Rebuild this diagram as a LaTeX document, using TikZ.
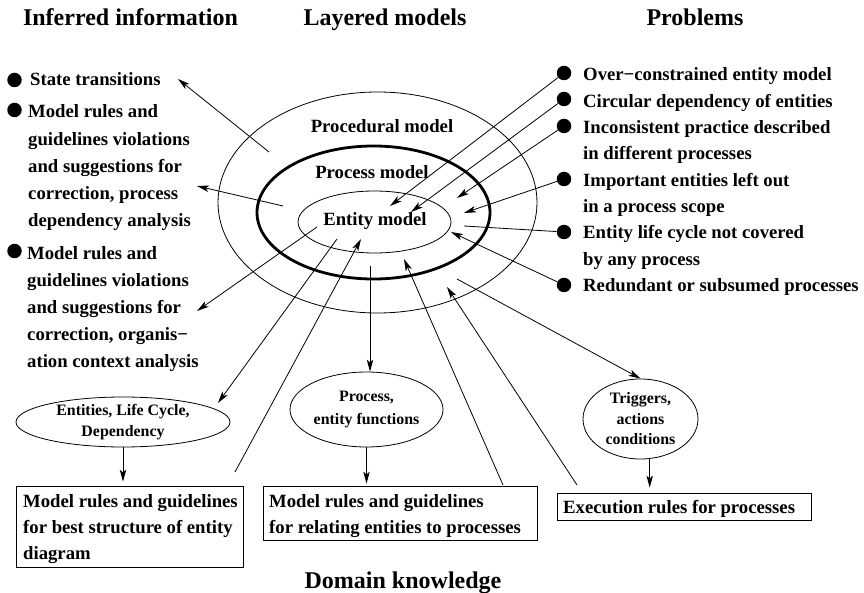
\documentclass[tikz,border=0pt]{standalone}
\usepackage{fontspec}
\setmainfont{Liberation Serif}
\usetikzlibrary{arrows.meta,shapes.geometric,calc}

\begin{document}
\begin{tikzpicture}[x=1pt,y=-1pt,
  lw/.style={line width=0.8pt},
  arr/.style={lw,-{Stealth[length=12pt,width=6.5pt,inset=3pt]}},
  head/.style={font=\fontsize{24}{28}\selectfont\bfseries, inner sep=0pt, anchor=base},
  lefttxt/.style={font=\fontsize{18.7}{27.2}\selectfont\bfseries, inner sep=0pt, anchor=base west, align=left},
  righttxt/.style={font=\fontsize{18.7}{26.3}\selectfont\bfseries, inner sep=0pt, anchor=base west, align=left},
  boxtxt/.style={font=\fontsize{18.7}{26.2}\selectfont\bfseries, inner sep=0pt, anchor=base west, align=left},
  layer/.style={font=\fontsize{18.7}{22}\selectfont\bfseries, inner sep=0pt, anchor=base},
  dot/.style={circle, fill, inner sep=0pt, minimum size=14.5pt},
  ring/.style={ellipse, draw, lw, inner sep=0pt},
  small/.style={ellipse, draw, lw, inner sep=0pt, align=center, font=\fontsize{15.9}{20.5}\selectfont\bfseries},
  rulebox/.style={rectangle, draw, lw, inner sep=0pt}
]
\useasboundingbox (0,0) rectangle (864,593);

% column headings
\node[head] (hinf) at (130.5,26) {Inferred information};
\node[head] (hlay) at (385,26) {Layered models};
\node[head] (hprob) at (695,26) {Problems};
\node[head] (hdom) at (403,588) {Domain knowledge};

% layered models
\node[ring, minimum width=319pt, minimum height=221pt] (proc) at (377.5,202.5) {};
\node[ring, line width=2.8pt, minimum width=233pt, minimum height=133pt] (procm) at (373.5,212.5) {};
\node[ring, minimum width=153pt, minimum height=62pt] (ent) at (374.5,222) {};
\node[layer] (lproc) at (382,133) {Procedural model};
\node[layer] (lprocm) at (372,179) {Process model};
\node[layer] (lent) at (375,226) {Entity model};

% inferred information (multi-line texts are placed by their last baseline)
\node[dot] (ib1) at (14.5,80) {};
\node[dot] (ib2) at (14.5,110) {};
\node[dot] (ib3) at (14.5,251) {};
\node[lefttxt] (it1) at (30,86) {State transitions};
\node[lefttxt] (it2) at (28,226.8) {Model rules and\\guidelines violations\\and suggestions for\\correction, process\\dependency analysis};
\node[lefttxt] (it3) at (27,367.8) {Model rules and\\guidelines violations\\and suggestions for\\correction, organis−\\ation context analysis};

% problems
\node[dot] (pb1) at (564,73) {};
\node[dot] (pb2) at (564,99) {};
\node[dot] (pb3) at (564,126) {};
\node[dot] (pb4) at (564,179) {};
\node[dot] (pb5) at (564,232) {};
\node[dot] (pb6) at (564,285) {};
\node[righttxt] (pt1) at (583,291.4) {Over−constrained entity model\\Circular dependency of entities\\Inconsistent practice described\\in different processes\\Important entities left out\\in a process scope\\Entity life cycle not covered\\by any process\\Redundant or subsumed processes};

% domain knowledge
\node[small, minimum width=214pt, minimum height=50pt] (e1) at (123,422) {Entities, Life Cycle,\\Dependency};
\node[small, minimum width=153pt, minimum height=75pt] (e2) at (366.5,409.5) {Process,\\[2.5pt]entity functions};
\node[small, minimum width=115pt, minimum height=80pt] (e3) at (640.5,419) {Triggers,\\actions\\conditions};

\node[rulebox, minimum width=227pt, minimum height=81pt] (box1) at (129.5,526.5) {};
\node[rulebox, minimum width=274pt, minimum height=54pt] (box2) at (400,513) {};
\node[rulebox, minimum width=254pt, minimum height=27pt] (box3) at (684,506.5) {};
\node[boxtxt] (bt1) at (23,559.4) {Model rules and guidelines\\for best structure of entity\\diagram};
\node[boxtxt] (bt2) at (269,533.2) {Model rules and guidelines\\for relating entities to processes};
\node[boxtxt] (bt3) at (563,513) {Execution rules for processes};

% free ends of the connectors
\coordinate (s1) at (269,152);   \coordinate (t1) at (178,79);
\coordinate (s2) at (283,206);   \coordinate (t2) at (197,186);
\coordinate (s3) at (317,227);   \coordinate (t3) at (197,311);
\coordinate (s4) at (337,239);   \coordinate (t4) at (218,403);
\coordinate (s5) at (235,472);   \coordinate (t5) at (361,239);
\coordinate (s6) at (370,266);
\coordinate (s7) at (503,485);   \coordinate (t7) at (404,259);
\coordinate (s8) at (577,485);   \coordinate (t8) at (447,287);
\coordinate (s9) at (457,279);
\coordinate (r1) at (390,206);
\coordinate (r2) at (411,212);
\coordinate (r3) at (457,198);
\coordinate (r4) at (464,213);
\coordinate (r5) at (464,226);
\coordinate (r6) at (451,232);

% inferred information arrows
\draw[arr] (s1) -- (t1);
\draw[arr] (s2) -- (t2);
\draw[arr] (s3) -- (t3);
\draw[arr] (s4) -- (t4);
\draw[arr] (s6) -- (s6 |- e2.north);
\draw[arr] (s9) -- (e3.north);

% domain knowledge feeding the models
\draw[arr] (s5) -- (t5);
\draw[arr] (s7) -- (t7);
\draw[arr] (s8) -- (t8);

% problems pointing into the models
\draw[arr] (pb1) -- (r1);
\draw[arr] (pb2) -- (r2);
\draw[arr] (pb3) -- (r3);
\draw[arr] (pb4) -- (r4);
\draw[lw] (pb5) -- (r5);
\draw[arr] (pb6) -- (r6);

% knowledge to rules
\draw[arr, shorten >=4pt] (e1.south) -- (e1.south |- box1.north);
\draw[arr, shorten >=2pt] (e2.south) -- (e2.south |- box2.north);
\draw[arr, shorten >=5pt] (e3.-77) -- (e3.-77 |- box3.north);
\end{tikzpicture}
\end{document}
